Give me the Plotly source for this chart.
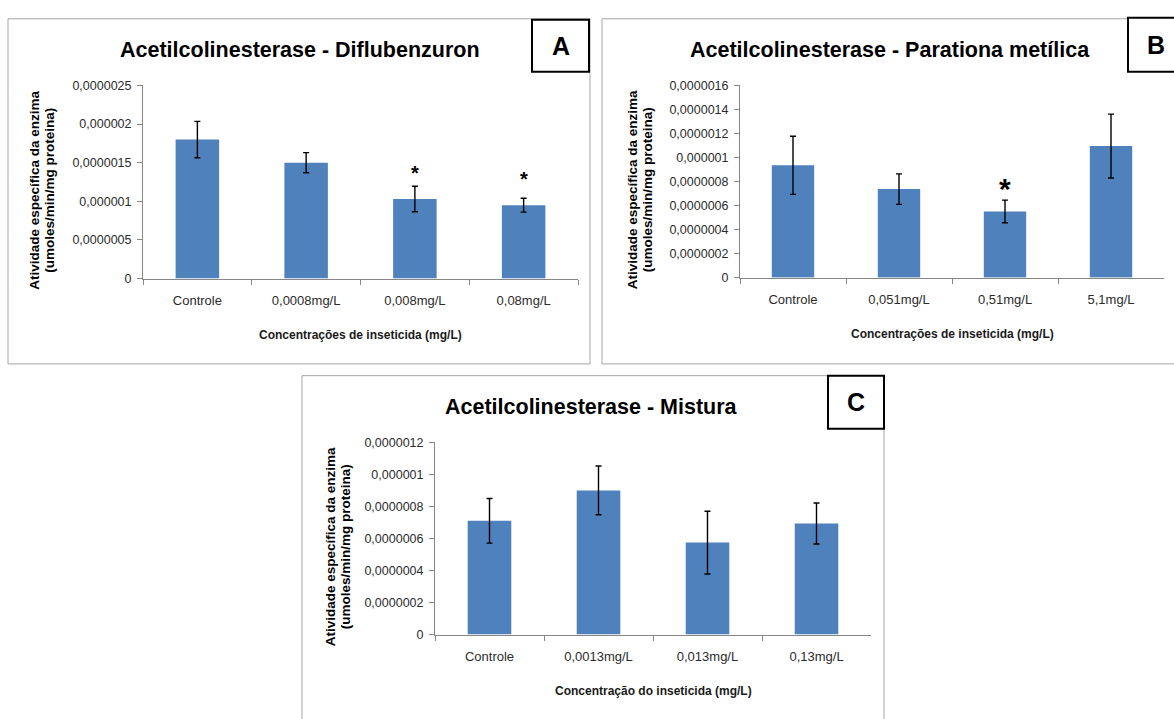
import plotly.graph_objects as go

W, H = 1174, 719

# ---------------- data ----------------
cats_a = ["Controle", "0,0008mg/L", "0,008mg/L", "0,08mg/L"]
vals_a = [1.80e-6, 1.50e-6, 1.03e-6, 0.95e-6]
err_a = [0.235e-6, 0.13e-6, 0.165e-6, 0.09e-6]
star_a = [None, None, 1.43e-6, 1.34e-6]

cats_b = ["Controle", "0,051mg/L", "0,51mg/L", "5,1mg/L"]
vals_b = [0.935e-6, 0.737e-6, 0.551e-6, 1.095e-6]
err_b = [0.242e-6, 0.127e-6, 0.094e-6, 0.266e-6]
star_b = [None, None, 0.80e-6, None]

cats_c = ["Controle", "0,0013mg/L", "0,013mg/L", "0,13mg/L"]
vals_c = [0.71e-6, 0.90e-6, 0.574e-6, 0.693e-6]
err_c = [0.139e-6, 0.152e-6, 0.196e-6, 0.128e-6]
star_c = [None, None, None, None]

tickvals_a = [0, 5e-7, 1e-6, 1.5e-6, 2e-6, 2.5e-6]
ticktext_a = ["0", "0,0000005", "0,000001", "0,0000015", "0,000002", "0,0000025"]
tickvals_b = [0, 2e-7, 4e-7, 6e-7, 8e-7, 1e-6, 1.2e-6, 1.4e-6, 1.6e-6]
ticktext_b = ["0", "0,0000002", "0,0000004", "0,0000006", "0,0000008", "0,000001",
              "0,0000012", "0,0000014", "0,0000016"]
tickvals_c = [0, 2e-7, 4e-7, 6e-7, 8e-7, 1e-6, 1.2e-6]
ticktext_c = ["0", "0,0000002", "0,0000004", "0,0000006", "0,0000008", "0,000001", "0,0000012"]

titles = ["Acetilcolinesterase - Diflubenzuron",
          "Acetilcolinesterase - Parationa metílica",
          "Acetilcolinesterase - Mistura"]
letters = ["A", "B", "C"]
xtitles = ["Concentrações de inseticida (mg/L)",
           "Concentrações de inseticida (mg/L)",
           "Concentração do inseticida (mg/L)"]
ytitle1 = "Atividade específica da enzima"
ytitle2 = "(umoles/min/mg proteina)"

# ---------------- layout geometry (pixels) ----------------
FONT = "Liberation Sans, Arial, sans-serif"
BAR = "#4F81BD"
AXC = "#868686"

panels = [
    dict(cats=cats_a, vals=vals_a, err=err_a, star=star_a, tv=tickvals_a, tt=ticktext_a,
         ymax=2.5e-6, plot=(143, 578, 80, 277), border=(8, 590, 12, 364),
         lbox=(532, 589, 13, 66), letter_x=561, title_xy=(300, 44), ytx=(35, 50), xt_y=335,
         star_size=20),
    dict(cats=cats_b, vals=vals_b, err=err_b, star=star_b, tv=tickvals_b, tt=ticktext_b,
         ymax=1.6e-6, plot=(740, 1164, 80, 276), border=(602, 1180, 12, 364),
         lbox=(1128, 1180, 11, 66), letter_x=1156, title_xy=(890, 44), ytx=(632, 647),
         xt_y=334, star_size=30),
    dict(cats=cats_c, vals=vals_c, err=err_c, star=star_c, tv=tickvals_c, tt=ticktext_c,
         ymax=1.2e-6, plot=(435, 871, 444, 640), border=(302, 884, 376, 730),
         lbox=(828, 884, 376, 430), letter_x=856, title_xy=(592, 408), ytx=(330, 345),
         xt_y=698, star_size=20),
]


def fx(x):
    return x / W


def fy(y):
    return 1 - y / H


fig = go.Figure()
shapes = []
annotations = []
layout_axes = {}

for i, p in enumerate(panels):
    n = "" if i == 0 else str(i + 1)
    xa, ya = "x" + n, "y" + n
    fig.add_trace(go.Bar(
        x=p["cats"], y=p["vals"], xaxis=xa, yaxis=ya, width=0.4,
        marker=dict(color=BAR, line=dict(width=0)),
        error_y=dict(type="data", array=p["err"], visible=True, color="#000000",
                     thickness=1.4, width=3),
        showlegend=False, hoverinfo="skip",
    ))
    x0, x1, y0, y1 = p["plot"]
    layout_axes["xaxis" + n] = dict(
        domain=[fx(x0), fx(x1)], anchor=ya, type="category",
        showline=True, linecolor=AXC, linewidth=1, ticks="outside", ticklen=5,
        tickcolor=AXC, tickson="boundaries", showgrid=False, zeroline=False,
        tickfont=dict(family=FONT, size=13, color="#2b2b2b"), ticklabelstandoff=10,
        fixedrange=True,
    )
    layout_axes["yaxis" + n] = dict(
        domain=[fy(y1), fy(y0)], anchor=xa, range=[0, p["ymax"]],
        showline=True, linecolor=AXC, linewidth=1, ticks="outside", ticklen=5,
        tickcolor=AXC, tickvals=p["tv"], ticktext=p["tt"], showgrid=False,
        zeroline=False, tickfont=dict(family=FONT, size=12.5, color="#2b2b2b"),
        ticklabelstandoff=3, fixedrange=True,
    )
    # panel border
    bx0, bx1, by0, by1 = p["border"]
    shapes.append(dict(type="rect", xref="paper", yref="paper", x0=fx(bx0), x1=fx(bx1),
                       y0=fy(by1), y1=fy(by0), line=dict(color="#A6A6A6", width=1),
                       layer="below"))
    # letter box
    lx0, lx1, ly0, ly1 = p["lbox"]
    shapes.append(dict(type="rect", xref="paper", yref="paper", x0=fx(lx0), x1=fx(lx1),
                       y0=fy(ly1), y1=fy(ly0), line=dict(color="#000000", width=2),
                       fillcolor="white"))
    annotations.append(dict(text="<b>%s</b>" % letters[i], xref="paper", yref="paper",
                            x=fx(p["letter_x"]), y=fy((ly0 + ly1) / 2), showarrow=False,
                            font=dict(family=FONT, size=25, color="#000"),
                            xanchor="center", yanchor="middle"))
    # title
    tx, ty = p["title_xy"]
    annotations.append(dict(text="<b>%s</b>" % titles[i], xref="paper", yref="paper",
                            x=fx(tx), y=fy(ty), showarrow=False,
                            font=dict(family=FONT, size=21.5, color="#000"),
                            xanchor="center", yanchor="middle"))
    # y titles
    cy = (y0 + y1) / 2 + 9
    for txt, xx in zip([ytitle1, ytitle2], p["ytx"]):
        annotations.append(dict(text="<b>%s</b>" % txt, xref="paper", yref="paper",
                                x=fx(xx), y=fy(cy), textangle=-90, showarrow=False,
                                font=dict(family=FONT, size=13.5, color="#000"),
                                xanchor="center", yanchor="middle"))
    # x title
    annotations.append(dict(text="<b>%s</b>" % xtitles[i], xref="paper", yref="paper",
                            x=fx((x0 + x1) / 2), y=fy(p["xt_y"]), showarrow=False,
                            font=dict(family=FONT, size=12, color="#1a1a1a"),
                            xanchor="center", yanchor="middle"))
    # asterisks
    for c, s in zip(p["cats"], p["star"]):
        if s is None:
            continue
        annotations.append(dict(text="<b>*</b>", xref=xa, yref=ya, x=c, y=s, showarrow=False,
                                font=dict(family=FONT, size=p["star_size"], color="#000"),
                                xanchor="center", yanchor="middle",
                                yshift=-0.22 * p["star_size"]))

fig.update_layout(
    width=W, height=H, margin=dict(l=0, r=0, t=0, b=0),
    paper_bgcolor="white", plot_bgcolor="white",
    shapes=shapes, annotations=annotations, showlegend=False,
    **layout_axes,
)

fig.write_html("out.html", config={"displayModeBar": False, "staticPlot": True},
               post_script="document.body.style.margin='0px';")
